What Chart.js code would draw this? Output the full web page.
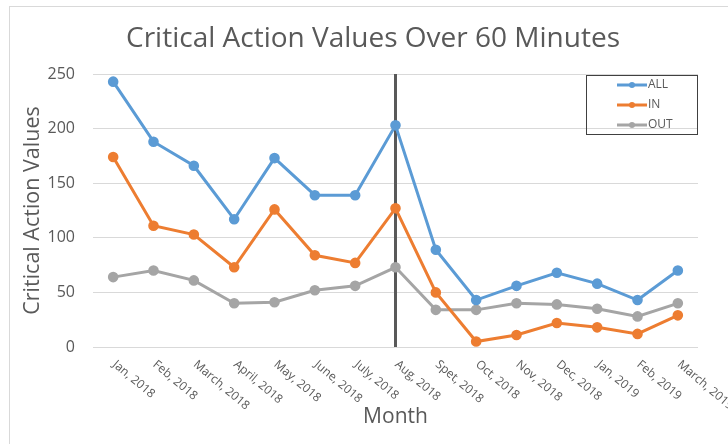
<!DOCTYPE html>
<html>
<head>
<meta charset="utf-8">
<script src="https://cdn.jsdelivr.net/npm/chart.js@4.4.0/dist/chart.umd.min.js"></script>
<style>
  html, body { margin: 0; padding: 0; background: #fff; }
  body { width: 728px; height: 444px; overflow: hidden; position: relative; }
  #frame { position: absolute; left: 9px; top: 6px; width: 718px; height: 437px;
           border-left: 1px solid #d9d9d9; border-top: 1px solid #d9d9d9; }
  #chart { display: block; }
</style>
</head>
<body>
<div id="frame"><canvas id="chart" width="718" height="437"></canvas></div>
<script>
let months = ['Jan, 2018', 'Feb, 2018', 'March, 2018', 'April, 2018', 'May, 2018', 'June, 2018',
  'July, 2018', 'Aug, 2018', 'Spet, 2018', 'Oct, 2018', 'Nov, 2018', 'Dec, 2018',
  'Jan, 2019', 'Feb, 2019', 'March, 2019']
let allValues = [243, 188, 166, 117, 173, 139, 139, 203, 89, 43, 56, 68, 58, 43, 70]
let inValues = [174, 111, 103, 73, 126, 84, 77, 127, 50, 5, 11, 22, 18, 12, 29]
let outValues = [64, 70, 61, 40, 41, 52, 56, 73, 34, 34, 40, 39, 35, 28, 40]
let markerMonth = 'Aug, 2018'
let chartTitle = 'Critical Action Values Over 60 Minutes'

let seriesNames = ['ALL', 'IN', 'OUT']
let seriesColors = ['#5b9bd5', '#ed7d31', '#a5a5a5']
let textGray = '#595959'
let fontName = "'Open Sans', sans-serif"

// title, vertical marker line, rotated month labels, boxed legend
let extras = {
  id: 'extras',
  beforeDatasetsDraw(chart) {
    let ctx = chart.ctx
    let area = chart.chartArea
    let x = chart.scales.x.getPixelForValue(months.indexOf(markerMonth))
    ctx.save()
    ctx.strokeStyle = '#595959'
    ctx.lineWidth = 3
    ctx.beginPath()
    ctx.moveTo(x, area.top)
    ctx.lineTo(x, area.bottom)
    ctx.stroke()
    ctx.restore()
  },
  afterDraw(chart) {
    let ctx = chart.ctx
    let xs = chart.scales.x
    let area = chart.chartArea
    ctx.save()
    ctx.fillStyle = textGray
    ctx.textAlign = 'center'
    ctx.textBaseline = 'middle'
    ctx.font = '28px ' + fontName
    ctx.fillText(chartTitle, 363, 32)

    ctx.font = '12px ' + fontName
    ctx.textAlign = 'left'
    months.forEach((m, i) => {
      let x = xs.getPixelForValue(i)
      ctx.save()
      ctx.translate(x + 1, area.bottom + 16)
      ctx.rotate(40 * Math.PI / 180)
      ctx.fillText(m, 0, 0)
      ctx.restore()
    })

    // legend box
    let bx = 576, by = 68, bw = 111, bh = 59
    ctx.strokeStyle = '#404040'
    ctx.lineWidth = 1
    ctx.strokeRect(bx + 0.5, by + 0.5, bw, bh)
    ctx.font = '12px ' + fontName
    chart.data.datasets.forEach((ds, i) => {
      let y = by + 10 + i * 20
      ctx.strokeStyle = ds.borderColor
      ctx.lineWidth = 3
      ctx.beginPath()
      ctx.moveTo(bx + 31, y)
      ctx.lineTo(bx + 61, y)
      ctx.stroke()
      ctx.fillStyle = ds.borderColor
      ctx.beginPath()
      ctx.arc(bx + 46, y, 3, 0, Math.PI * 2)
      ctx.fill()
      ctx.fillStyle = textGray
      ctx.fillText(ds.label, bx + 62, y)
    })
    ctx.restore()
  }
}

let datasets = [allValues, inValues, outValues].map((vals, i) => ({
  label: seriesNames[i],
  data: vals,
  borderColor: seriesColors[i],
  backgroundColor: seriesColors[i],
  borderWidth: 3,
  pointRadius: 3.8,
  pointHoverRadius: 3.8,
  tension: 0
}))

let ctx = document.getElementById('chart').getContext('2d')
let chart = new Chart(ctx, {
  type: 'line',
  data: { labels: months, datasets: datasets },
  plugins: [extras],
  options: {
    responsive: false,
    animation: false,
    layout: { padding: { left: 0, right: 30, top: 67, bottom: 0 } },
    plugins: {
      legend: { display: false },
      tooltip: { enabled: false },
      title: { display: false }
    },
    scales: {
      x: {
        offset: true,
        grid: { display: false },
        border: { display: false },
        ticks: { display: false },
        title: {
          display: true,
          text: 'Month',
          color: textGray,
          font: { family: fontName, size: 21 },
          padding: { top: 4, bottom: 14 }
        },
        afterFit(scale) { scale.height = 97 }
      },
      y: {
        min: 0,
        max: 250,
        ticks: { stepSize: 50, color: textGray, padding: 18, font: { family: fontName, size: 16 } },
        grid: { color: '#d9d9d9', lineWidth: 1, drawTicks: false },
        border: { display: false },
        title: {
          display: true,
          text: 'Critical Action Values',
          color: textGray,
          font: { family: fontName, size: 21.5 },
          padding: { top: 10, bottom: 4 }
        },
        afterFit(scale) { scale.width = 83 }
      }
    }
  }
})
</script>
</body>
</html>
